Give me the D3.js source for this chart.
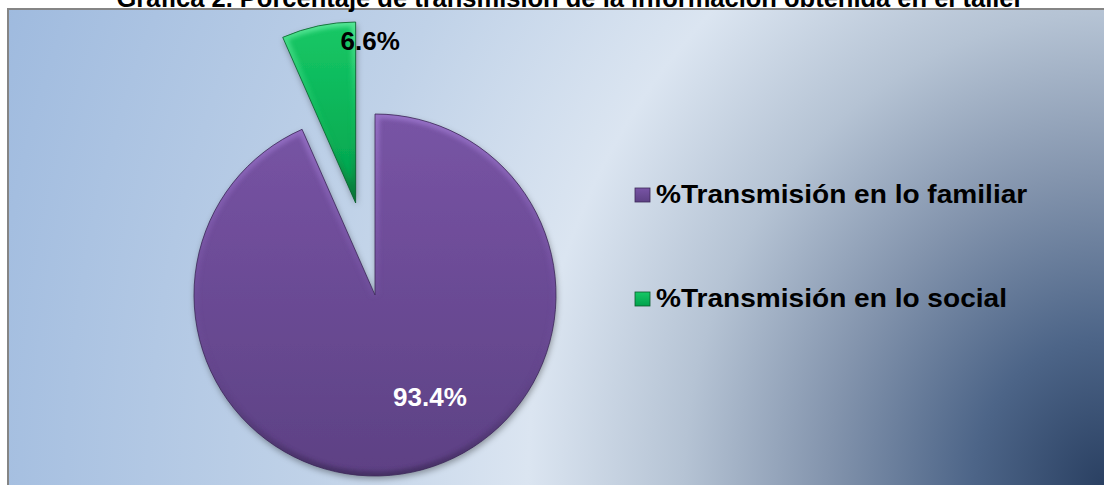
<!DOCTYPE html>
<html>
<head>
<meta charset="utf-8">
<script src="https://cdn.jsdelivr.net/npm/d3@7"></script>
<style>
    body { margin: 0; background: #ffffff; overflow: hidden; }
</style>
</head>
<body>
<div id="pie-chart"></div>
<script>
// data
const chartTitle = "Gráfica 2. Porcentaje de transmisión de la información obtenida en el taller";
const categories = ["%Transmisión en lo familiar", "%Transmisión en lo social"];
const percentValues = [93.4, 6.6];
const valueLabels = ["93.4%", "6.6%"];

// style
const width = 1104;
const height = 485;
const sliceColors = [
    { top: "#7854a5", bottom: "#5d4184", rim: "#3c2958", light: "#a17bd2" },
    { top: "#17c866", bottom: "#00a24c", rim: "#0b5b2b", light: "#6cf0a6" }
];
const explodeOffsets = [0, 94];
const labelStyle = [
    { angleShift: -16.4, radiusFactor: 0.64, fill: "#ffffff" },
    { angleShift: 17, radiusFactor: 0.9, fill: "#000000" }
];
const center = { x: 375, y: 295 };
const radius = 181;
const fontFamily = "'Liberation Sans', Arial, sans-serif";

const slices = categories.map((name, i) => ({
    name,
    value: percentValues[i],
    label: valueLabels[i],
    index: i
}));

const svg = d3.select("#pie-chart")
    .append("svg")
    .attr("width", width)
    .attr("height", height)
    .attr("viewBox", `0 0 ${width} ${height}`);

const defs = svg.append("defs");

// background: dark corner at bottom right, pale band through the middle
const bgGradient = defs.append("radialGradient")
    .attr("id", "bg-gradient")
    .attr("gradientUnits", "userSpaceOnUse")
    .attr("cx", width)
    .attr("cy", height)
    .attr("r", 1200)
    .attr("gradientTransform", `translate(${width}, ${height}) scale(1, 1.12) translate(${-width}, ${-height})`);
[
    [0, "#2a4062"],
    [0.11, "#4d6588"],
    [0.23, "#8394ad"],
    [0.35, "#b5c3d4"],
    [0.48, "#dbe5f1"],
    [0.66, "#c0d2e8"],
    [1, "#9db9de"]
].forEach(([offset, color]) => {
    bgGradient.append("stop").attr("offset", offset).attr("stop-color", color);
});

slices.forEach((d, i) => {
    const g = defs.append("linearGradient")
        .attr("id", `slice-fill-${i}`)
        .attr("x1", 0).attr("y1", 0).attr("x2", 0).attr("y2", 1);
    g.append("stop").attr("offset", 0).attr("stop-color", sliceColors[i].top);
    g.append("stop").attr("offset", 1).attr("stop-color", sliceColors[i].bottom);

    const rim = defs.append("linearGradient")
        .attr("id", `slice-rim-${i}`)
        .attr("x1", 0).attr("y1", 0).attr("x2", 0).attr("y2", 1);
    rim.append("stop").attr("offset", 0).attr("stop-color", sliceColors[i].light);
    rim.append("stop").attr("offset", 0.55).attr("stop-color", sliceColors[i].top).attr("stop-opacity", 0.3);
    rim.append("stop").attr("offset", 1).attr("stop-color", sliceColors[i].rim);
});

const shadow = defs.append("filter")
    .attr("id", "slice-shadow")
    .attr("x", "-20%").attr("y", "-20%")
    .attr("width", "140%").attr("height", "140%");
shadow.append("feDropShadow")
    .attr("dx", 1).attr("dy", 3)
    .attr("stdDeviation", 3)
    .attr("flood-color", "#000000")
    .attr("flood-opacity", 0.35);

const rimBlur = defs.append("filter").attr("id", "rim-blur");
rimBlur.append("feGaussianBlur").attr("stdDeviation", 2);

svg.append("rect")
    .attr("x", 8)
    .attr("y", 9)
    .attr("width", width)
    .attr("height", height)
    .attr("fill", "url(#bg-gradient)")
    .attr("stroke", "#858585")
    .attr("stroke-width", 2);

svg.append("text")
    .attr("x", 570)
    .attr("y", 7)
    .attr("text-anchor", "middle")
    .attr("fill", "#000000")
    .style("font-family", fontFamily)
    .style("font-size", "25.5px")
    .style("font-weight", "bold")
    .text(chartTitle);

const pie = d3.pie()
    .sort(null)
    .value(d => d.value)
    .startAngle(0)
    .endAngle(2 * Math.PI);

const arc = d3.arc()
    .innerRadius(0)
    .outerRadius(radius);

const arcs = pie(slices);

const polar = (angle, r) => [r * Math.sin(angle), -r * Math.cos(angle)];

const pieGroup = svg.append("g")
    .attr("transform", `translate(${center.x}, ${center.y})`);

const sliceGroups = pieGroup.selectAll("g.slice")
    .data(arcs)
    .join("g")
    .attr("class", "slice")
    .attr("transform", d => {
        const mid = (d.startAngle + d.endAngle) / 2;
        const [dx, dy] = polar(mid, explodeOffsets[d.data.index]);
        return `translate(${dx}, ${dy})`;
    });

sliceGroups.each(function (d) {
    const i = d.data.index;
    defs.append("clipPath")
        .attr("id", `slice-clip-${i}`)
        .attr("transform", d3.select(this).attr("transform"))
        .append("path")
        .attr("d", arc(d));
});

sliceGroups.append("path")
    .attr("d", arc)
    .attr("fill", d => `url(#slice-fill-${d.data.index})`)
    .attr("filter", "url(#slice-shadow)");

// soft bevel: light rim on top, darker rim underneath
sliceGroups.append("g")
    .attr("clip-path", d => `url(#slice-clip-${d.data.index})`)
    .attr("transform", function () {
        const t = d3.select(this.parentNode).attr("transform");
        return t.replace(/translate\(([-\d.e]+), ([-\d.e]+)\)/, (m, x, y) => `translate(${-x}, ${-y})`);
    })
    .append("path")
    .attr("transform", function () {
        return d3.select(this.parentNode.parentNode).attr("transform");
    })
    .attr("d", arc)
    .attr("fill", "none")
    .attr("stroke", d => `url(#slice-rim-${d.data.index})`)
    .attr("stroke-width", 9)
    .attr("opacity", 0.75)
    .attr("filter", "url(#rim-blur)");

sliceGroups.append("path")
    .attr("d", arc)
    .attr("fill", "none")
    .attr("stroke", d => sliceColors[d.data.index].rim)
    .attr("stroke-width", 1)
    .attr("stroke-opacity", 0.8);

sliceGroups.append("text")
    .attr("transform", d => {
        const st = labelStyle[d.data.index];
        const mid = (d.startAngle + d.endAngle) / 2 + st.angleShift * Math.PI / 180;
        const [x, y] = polar(mid, radius * st.radiusFactor);
        return `translate(${x}, ${y})`;
    })
    .attr("text-anchor", "middle")
    .attr("dy", "0.36em")
    .attr("fill", d => labelStyle[d.data.index].fill)
    .style("font-family", fontFamily)
    .style("font-size", "26px")
    .style("font-weight", "bold")
    .text(d => d.data.label);

// legend
const legendY = d3.scalePoint()
    .domain(categories)
    .range([195, 299]);

const legend = svg.append("g")
    .attr("class", "legend")
    .attr("transform", "translate(635, 0)");

const legendItems = legend.selectAll("g")
    .data(slices)
    .join("g")
    .attr("transform", d => `translate(0, ${legendY(d.name)})`);

legendItems.append("rect")
    .attr("x", 0)
    .attr("y", -7)
    .attr("width", 15)
    .attr("height", 14)
    .attr("fill", d => `url(#slice-fill-${d.index})`)
    .attr("stroke", d => sliceColors[d.index].rim)
    .attr("stroke-width", 0.8);

// the reference lettering is a little wider than Arial at this height
legendItems.append("text")
    .attr("transform", "translate(21, 8) scale(1.08, 1)")
    .attr("fill", "#000000")
    .style("font-family", fontFamily)
    .style("font-size", "26px")
    .style("font-weight", "bold")
    .text(d => d.name);
</script>
</body>
</html>
